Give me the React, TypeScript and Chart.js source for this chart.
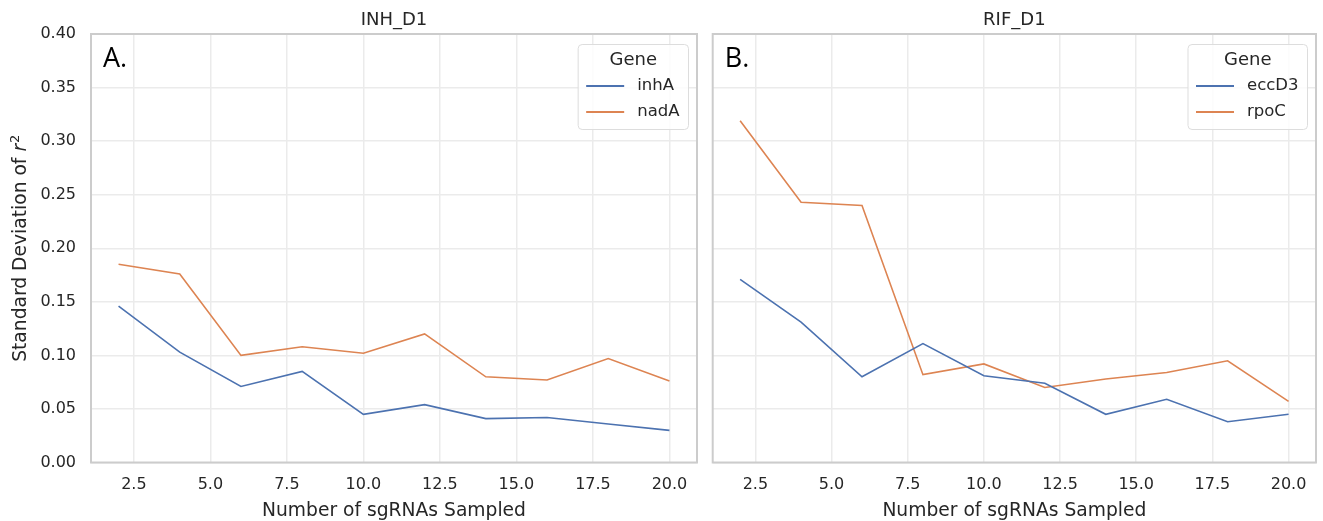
import React, { useEffect, useRef } from "react";
import { Chart, registerables } from "chart.js";
Chart.register(...registerables);

const sgRNAsSampled = [2, 4, 6, 8, 10, 12, 14, 16, 18, 20];
const inhA = [0.146, 0.103, 0.071, 0.085, 0.045, 0.054, 0.041, 0.042, 0.036, 0.030];
const nadA = [0.185, 0.176, 0.100, 0.108, 0.102, 0.120, 0.080, 0.077, 0.097, 0.076];
const eccD3 = [0.171, 0.131, 0.080, 0.111, 0.081, 0.074, 0.045, 0.059, 0.038, 0.045];
const rpoC = [0.319, 0.243, 0.240, 0.082, 0.092, 0.070, 0.078, 0.084, 0.095, 0.057];
const xTicks = [2.5, 5.0, 7.5, 10.0, 12.5, 15.0, 17.5, 20.0];
const yTicks = [0, 0.05, 0.1, 0.15, 0.2, 0.25, 0.3, 0.35, 0.4];
const panelTitles = ["INH_D1", "RIF_D1"];
const panelLetters = ["A.", "B."];
const geneNamesA = ["inhA", "nadA"];
const geneNamesB = ["eccD3", "rpoC"];
const legendTitle = "Gene";
const xAxisTitle = "Number of sgRNAs Sampled";
const yAxisTitle = "Standard Deviation of ";

const BLUE = "#4c72b0";
const ORANGE = "#dd8452";
const TEXT = "#262626";
const FONT = "'DejaVu Sans', sans-serif";
const FS_TITLE = 18;
const FS_AXIS = 18.7;
const FS_TICK = 16;
const FS_LEG = 16.5;

type PanelProps = {
  idx: number;
  left: number;
  width: number;
  areaLeft: number;
  areaRight: number;
  names: string[];
  series: number[][];
  yLabels: boolean;
};

const H = 521;
const AREA_TOP = 34;
const AREA_BOTTOM = 462.5;

function Panel(p: PanelProps) {
  const ref = useRef<HTMLCanvasElement | null>(null);
  useEffect(() => {
    const canvas = ref.current;
    if (!canvas) return;
    const overlay = {
      id: "overlay",
      afterDatasetsDraw(chart: any) {
        const ctx = chart.ctx;
        const a = chart.chartArea;
        ctx.save();
        // frame
        ctx.strokeStyle = "#cccccc";
        ctx.lineWidth = 2;
        ctx.strokeRect(a.left, a.top, a.right - a.left, a.bottom - a.top);
        // panel title
        ctx.fillStyle = TEXT;
        ctx.font = `${FS_TITLE}px ${FONT}`;
        ctx.textAlign = "center";
        ctx.textBaseline = "alphabetic";
        const cx = (a.left + a.right) / 2;
        ctx.fillText(panelTitles[p.idx], cx, 25);
        // x axis title
        ctx.font = `${FS_AXIS}px ${FONT}`;
        ctx.fillText(xAxisTitle, cx, 516);
        // letter
        ctx.fillStyle = "#000";
        ctx.font = `27px 'Open Sans', 'Noto Sans', sans-serif`;
        ctx.textAlign = "left";
        ctx.fillText(panelLetters[p.idx], a.left + 12, 67);
        // y title
        if (p.yLabels) {
          ctx.save();
          ctx.translate(26, (a.top + a.bottom) / 2);
          ctx.rotate(-Math.PI / 2);
          const supFs = Math.round(FS_AXIS * 0.7);
          ctx.font = `${FS_AXIS}px ${FONT}`;
          const w1 = ctx.measureText(yAxisTitle).width;
          ctx.font = `italic ${FS_AXIS}px ${FONT}`;
          const w2 = ctx.measureText("r").width;
          ctx.font = `${supFs}px ${FONT}`;
          const w3 = ctx.measureText("2").width;
          const total = w1 + w2 + w3 + 1;
          let x = -total / 2;
          ctx.fillStyle = TEXT;
          ctx.textAlign = "left";
          ctx.font = `${FS_AXIS}px ${FONT}`;
          ctx.fillText(yAxisTitle, x, 0);
          x += w1;
          ctx.font = `italic ${FS_AXIS}px ${FONT}`;
          ctx.fillText("r", x, 0);
          x += w2 + 1;
          ctx.font = `${supFs}px ${FONT}`;
          ctx.fillText("2", x, -7);
          ctx.restore();
        }
        // legend
        ctx.font = `${FS_LEG}px ${FONT}`;
        const maxText = Math.max(...p.names.map((n) => ctx.measureText(n).width));
        const bw = 8 + 38 + 13 + maxText + 9;
        const bx = a.right - 8.5 - bw;
        const by = 44.5;
        const bh = 85;
        ctx.beginPath();
        ctx.roundRect(bx, by, bw, bh, 4);
        ctx.fillStyle = "rgba(255,255,255,0.85)";
        ctx.fill();
        ctx.strokeStyle = "#dddddd";
        ctx.lineWidth = 1;
        ctx.stroke();
        ctx.fillStyle = TEXT;
        ctx.textAlign = "center";
        ctx.textBaseline = "middle";
        ctx.font = `${FS_TITLE}px ${FONT}`;
        ctx.fillText(legendTitle, bx + bw / 2, by + 15.5);
        ctx.font = `${FS_LEG}px ${FONT}`;
        const colors = [BLUE, ORANGE];
        p.names.forEach((n, i) => {
          const yy = by + 41.5 + i * 26;
          ctx.strokeStyle = colors[i];
          ctx.lineWidth = 2;
          ctx.beginPath();
          ctx.moveTo(bx + 8, yy);
          ctx.lineTo(bx + 46, yy);
          ctx.stroke();
          ctx.fillStyle = TEXT;
          ctx.textAlign = "left";
          ctx.fillText(n, bx + 59, yy);
        });
        ctx.restore();
      },
    };
    const chart = new Chart(canvas, {
      type: "line",
      data: {
        datasets: p.series.map((s, i) => ({
          label: p.names[i],
          data: sgRNAsSampled.map((x, j) => ({ x, y: s[j] })),
          borderColor: i === 0 ? BLUE : ORANGE,
          backgroundColor: i === 0 ? BLUE : ORANGE,
          borderWidth: 1.6,
          pointRadius: 0,
          tension: 0,
          fill: false,
        })),
      },
      options: {
        responsive: false,
        animation: false,
        events: [],
        layout: { padding: { top: AREA_TOP, right: p.width - p.areaRight, left: 0, bottom: 0 } },
        plugins: { legend: { display: false }, title: { display: false }, tooltip: { enabled: false } },
        scales: {
          x: {
            type: "linear",
            min: 1.1,
            max: 20.9,
            afterBuildTicks: (scale: any) => {
              scale.ticks = xTicks.map((v) => ({ value: v }));
            },
            afterFit: (scale: any) => {
              scale.height = H - AREA_BOTTOM;
            },
            grid: { color: "#ebebeb", lineWidth: 1.5, drawTicks: false },
            border: { display: false },
            ticks: {
              padding: 13,
              color: TEXT,
              font: { family: FONT, size: FS_TICK },
              maxRotation: 0,
              callback: (v: any) => Number(v).toFixed(1),
            },
          },
          y: {
            type: "linear",
            min: 0,
            max: 0.4,
            afterBuildTicks: (scale: any) => {
              scale.ticks = yTicks.map((v) => ({ value: v }));
            },
            afterFit: (scale: any) => {
              scale.width = p.areaLeft;
            },
            grid: { color: "#ebebeb", lineWidth: 1.5, drawTicks: false },
            border: { display: false },
            ticks: {
              display: p.yLabels,
              padding: 15,
              color: TEXT,
              font: { family: FONT, size: FS_TICK },
              callback: (v: any) => Number(v).toFixed(2),
            },
          },
        },
      },
      plugins: [overlay],
    } as any);
    return () => chart.destroy();
  }, []);
  return (
    <div style={{ position: "absolute", left: p.left, top: 0, width: p.width, height: H }}>
      <canvas ref={ref} width={p.width} height={H} style={{ width: p.width, height: H, display: "block" }} />
    </div>
  );
}

export default function App() {
  return (
    <div style={{ position: "absolute", left: 0, top: 0, width: 1323, height: H, background: "#fff" }}>
      <Panel idx={0} left={0} width={705} areaLeft={91} areaRight={697} names={geneNamesA} series={[inhA, nadA]} yLabels={true} />
      <Panel idx={1} left={705} width={618} areaLeft={7.7} areaRight={611} names={geneNamesB} series={[eccD3, rpoC]} yLabels={false} />
    </div>
  );
}
